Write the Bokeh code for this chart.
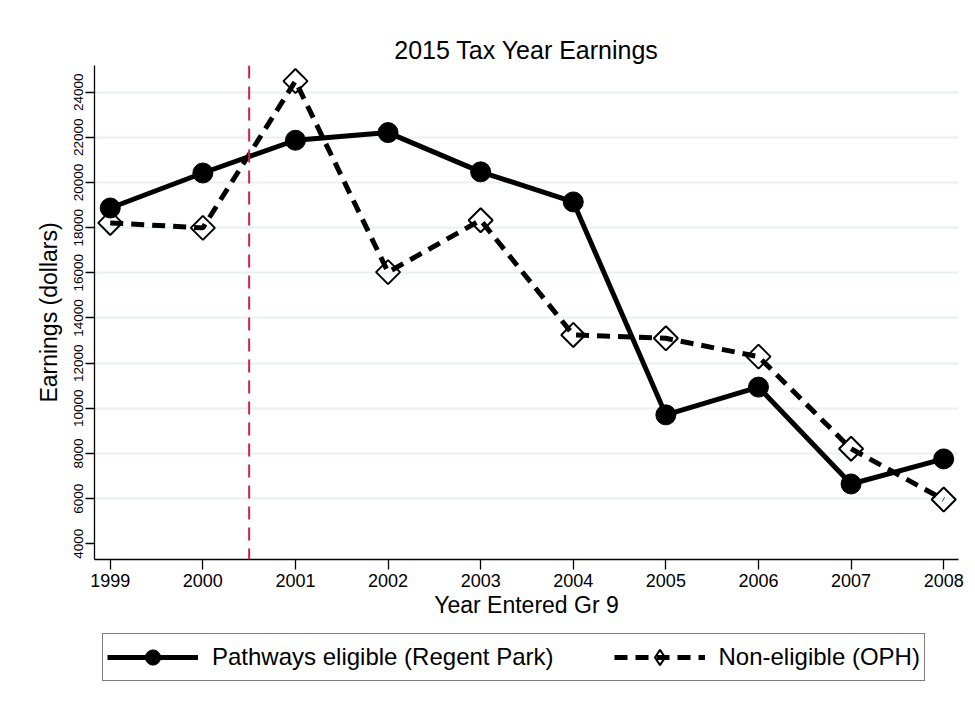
import math
from bokeh.plotting import figure
from bokeh.layouts import column
from bokeh.models import FixedTicker, Legend, LegendItem, Span, Range1d
from bokeh.embed import file_html
from bokeh.resources import INLINE

# ---- data ----
years = [1999, 2000, 2001, 2002, 2003, 2004, 2005, 2006, 2007, 2008]
eligible = [18870, 20420, 21870, 22210, 20470, 19140, 9710, 10940, 6650, 7760]
non_eligible = [18210, 17990, 24490, 16030, 18330, 13250, 13100, 12290, 8210, 5960]
y_ticks = [4000, 6000, 8000, 10000, 12000, 14000, 16000, 18000, 20000, 22000, 24000]
grid_ticks = [6000, 8000, 10000, 12000, 14000, 16000, 18000, 20000, 22000, 24000]
cutoff_year = 2000.5
title_text = "2015 Tax Year Earnings"
x_label = "Year Entered Gr 9"
y_label = "Earnings (dollars)"
label_eligible = "Pathways eligible (Regent Park)"
label_non = "Non-eligible (OPH)"

FONT = "Liberation Sans"
DASH = "13 8"
X_RANGE = (1998.83, 2008.16)
Y_RANGE = (3306, 25180)

p = figure(width=967, height=620,
           x_range=Range1d(*X_RANGE), y_range=Range1d(*Y_RANGE),
           output_backend="svg", toolbar_location=None,
           min_border_left=94, min_border_right=9,
           min_border_top=65, min_border_bottom=60,
           title=title_text)
p.background_fill_color = "white"
p.border_fill_color = "white"
p.outline_line_color = None

p.title.align = "center"
p.title.text_font = FONT
p.title.text_font_size = "25px"
p.title.text_font_style = "normal"
p.title.text_color = "black"
p.title.standoff = 4

xa = p.xaxis[0]
xa.ticker = FixedTicker(ticks=years)
xa.axis_label = x_label
xa.axis_label_text_font = FONT
xa.axis_label_text_font_size = "23px"
xa.axis_label_text_font_style = "normal"
xa.axis_label_text_color = "black"
xa.axis_label_standoff = 2
xa.major_label_text_font = FONT
xa.major_label_text_font_size = "18px"
xa.major_label_text_color = "black"
xa.major_label_standoff = 4
xa.major_tick_out = 10
xa.major_tick_in = 0
xa.minor_tick_out = 0
xa.minor_tick_in = 0
xa.axis_line_color = "black"
xa.axis_line_width = 1.3
xa.major_tick_line_color = "black"
xa.major_tick_line_width = 1.3

ya = p.yaxis[0]
ya.ticker = FixedTicker(ticks=y_ticks)
ya.axis_label = y_label
ya.axis_label_text_font = FONT
ya.axis_label_text_font_size = "23px"
ya.axis_label_text_font_style = "normal"
ya.axis_label_text_color = "black"
ya.axis_label_standoff = 10
ya.major_label_orientation = "vertical"
ya.major_label_text_font = FONT
ya.major_label_text_font_size = "13.5px"
ya.major_label_text_color = "black"
ya.major_label_standoff = 2
ya.major_tick_out = 9
ya.major_tick_in = 0
ya.minor_tick_out = 0
ya.minor_tick_in = 0
ya.axis_line_color = "black"
ya.axis_line_width = 1.3
ya.major_tick_line_color = "black"
ya.major_tick_line_width = 1.3

p.xgrid.visible = False
p.ygrid.ticker = FixedTicker(ticks=grid_ticks)
p.ygrid.grid_line_color = "#e8f0f2"
p.ygrid.grid_line_width = 2

p.add_layout(Span(location=cutoff_year, dimension="height",
                  line_color="#d21f4a", line_dash=DASH, line_width=2))

p.line(years, eligible, line_width=5, line_color="black")
p.line(years, non_eligible, line_width=5, line_color="black", line_dash=DASH)
p.scatter(years, eligible, marker="circle", size=20,
          fill_color="black", line_color="black")
p.scatter(years, non_eligible, marker="square", angle=math.pi / 4, size=17,
          fill_color=None, line_color="black", line_width=2)

# ---- legend strip below the chart (its series lie outside its own view) ----
lg = figure(width=967, height=92, x_range=Range1d(0, 1), y_range=Range1d(0, 1),
            x_axis_type=None, y_axis_type=None,
            output_backend="svg", toolbar_location=None,
            min_border_left=94, min_border_right=9,
            min_border_top=0, min_border_bottom=0)
lg.outline_line_color = None
lg.background_fill_color = "white"
lg.border_fill_color = "white"

e_line = lg.line(years, eligible, line_width=5, line_color="black")
e_mark = lg.scatter(years, eligible, marker="circle", fill_color="black", line_color="black")
n_line = lg.line(years, non_eligible, line_width=5, line_color="black", line_dash=DASH)
n_mark = lg.scatter(years, non_eligible, marker="diamond", fill_color=None,
                    line_color="black", line_width=2)

legend = Legend(items=[LegendItem(label=label_eligible, renderers=[e_line, e_mark]),
                       LegendItem(label=label_non, renderers=[n_line, n_mark])],
                orientation="horizontal", location=(8, 31),
                glyph_width=91, glyph_height=38, label_standoff=14,
                spacing=60, padding=4, margin=0,
                border_line_color="black", border_line_width=1.5,
                background_fill_color="white", background_fill_alpha=1,
                label_text_font=FONT, label_text_font_size="24px",
                label_text_color="black")
lg.add_layout(legend, "center")

layout = column(p, lg, spacing=0)
open("out.html", "w").write(file_html(layout, INLINE))
